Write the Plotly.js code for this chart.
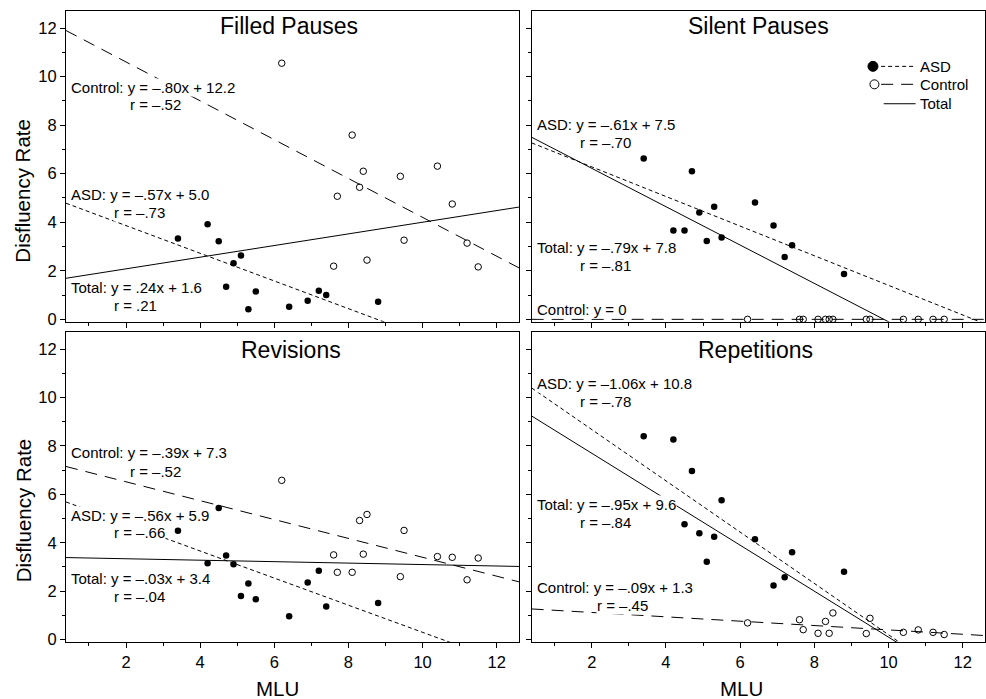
<!DOCTYPE html>
<html>
<head>
<meta charset="utf-8">
<script src="https://cdn.plot.ly/plotly-3.0.1.min.js"></script>
<style>html,body{margin:0;padding:0;background:#fff;}#chart{width:986px;height:699px;}</style>
</head>
<body>
<div id="chart"></div>
<script>
// ---- data ----
const asdMLU = [3.4, 4.2, 4.5, 4.7, 4.9, 5.1, 5.3, 5.5, 6.4, 6.9, 7.2, 7.4, 8.8];
const ctlMLU = [6.2, 7.6, 7.7, 8.1, 8.3, 8.4, 8.5, 9.4, 9.5, 10.4, 10.8, 11.2, 11.5];

const filledASD = [3.33, 3.92, 3.22, 1.34, 2.31, 2.63, 0.42, 1.15, 0.52, 0.77, 1.18, 1.00, 0.72];
const filledCtl = [10.55, 2.19, 5.07, 7.59, 5.44, 6.10, 2.44, 5.89, 3.26, 6.31, 4.75, 3.14, 2.16];
const silentASD = [6.62, 3.66, 3.66, 6.10, 4.40, 3.23, 4.64, 3.37, 4.81, 3.86, 2.57, 3.05, 1.87];
const silentCtl = [0, 0, 0, 0, 0, 0, 0, 0, 0, 0, 0, 0, 0];
const revASD = [4.50, 3.15, 5.44, 3.47, 3.11, 1.80, 2.32, 1.67, 0.96, 2.36, 2.84, 1.37, 1.51];
const revCtl = [6.58, 3.50, 2.78, 2.78, 4.92, 3.53, 5.17, 2.60, 4.51, 3.43, 3.40, 2.47, 3.37];
const repASD = [8.40, 8.27, 4.77, 6.97, 4.39, 3.22, 4.25, 5.76, 4.15, 2.23, 2.58, 3.61, 2.80];
const repCtl = [0.69, 0.82, 0.41, 0.26, 0.75, 0.26, 1.10, 0.25, 0.88, 0.30, 0.40, 0.30, 0.21];

// regression lines: [slope, intercept]
const filledFits = {asd: [-0.57, 5.0], ctl: [-0.80, 12.2], tot: [0.24, 1.6]};
const silentFits = {asd: [-0.61, 7.5], ctl: [0, 0], tot: [-0.79, 7.8]};
const revFits    = {asd: [-0.56, 5.9], ctl: [-0.39, 7.3], tot: [-0.03, 3.4]};
const repFits    = {asd: [-1.06, 10.8], ctl: [-0.09, 1.3], tot: [-0.95, 9.6]};

const panelTitles = ["Filled Pauses", "Silent Pauses", "Revisions", "Repetitions"];
const filledLabels = ["Control: y = –.80x + 12.2", "r = –.52", "ASD: y = –.57x + 5.0", "r = –.73", "Total: y = .24x + 1.6", "r = .21"];
const silentLabels = ["ASD: y = –.61x + 7.5", "r = –.70", "Total: y = –.79x + 7.8", "r = –.81", "Control: y = 0"];
const revLabels = ["Control: y = –.39x + 7.3", "r = –.52", "ASD: y = –.56x + 5.9", "r = –.66", "Total: y = –.03x + 3.4", "r = –.04"];
const repLabels = ["ASD: y = –1.06x + 10.8", "r = –.78", "Total: y = –.95x + 9.6", "r = –.84", "Control: y = –.09x + 1.3", "r = –.45"];
const legendLabels = ["ASD", "Control", "Total"];

const xTickVals = [2, 4, 6, 8, 10, 12];
const xMinorVals = [1, 3, 5, 7, 9, 11];
const yTickVals = [0, 2, 4, 6, 8, 10, 12];
const yMinorVals = [1, 3, 5, 7, 9, 11];

// ---- build ----
const XR = [0.38, 12.6];
const YR = [-0.1, 12.7];
const FONT = "Liberation Sans, Arial, Helvetica, sans-serif";
const SHORT = "4px,3px";
const LONG = "12px,8px";

const traces = [];
function fitLine(fit, xa, ya, dash) {
  const xs = [XR[0], XR[1]];
  traces.push({x: xs, y: xs.map(v => fit[0] * v + fit[1]), xaxis: xa, yaxis: ya,
    mode: "lines", line: {color: "black", width: 1, dash: dash}, showlegend: false, hoverinfo: "skip"});
}
function pts(xs, ys, xa, ya, open) {
  traces.push({x: xs, y: ys, xaxis: xa, yaxis: ya, mode: "markers", showlegend: false,
    marker: open ? {symbol: "circle-open", size: 6.5, color: "black", line: {width: 1, color: "black"}}
                 : {symbol: "circle", size: 6.5, color: "black"}, cliponaxis: false});
}
const panels = [
  {fits: filledFits, a: filledASD, c: filledCtl, xa: "x", ya: "y"},
  {fits: silentFits, a: silentASD, c: silentCtl, xa: "x2", ya: "y2"},
  {fits: revFits, a: revASD, c: revCtl, xa: "x3", ya: "y3"},
  {fits: repFits, a: repASD, c: repCtl, xa: "x4", ya: "y4"}
];
panels.forEach(p => {
  fitLine(p.fits.ctl, p.xa, p.ya, LONG);
  fitLine(p.fits.asd, p.xa, p.ya, SHORT);
  fitLine(p.fits.tot, p.xa, p.ya, "solid");
});
panels.forEach(p => {
  pts(ctlMLU, p.c, p.xa, p.ya, true);
  pts(asdMLU, p.a, p.xa, p.ya, false);
});

function xax(domain, labels) {
  return {domain: domain, range: XR, showline: true, linecolor: "black", linewidth: 1, mirror: true,
    ticks: "outside", ticklen: 5, tickwidth: 1, tickcolor: "black", tickvals: xTickVals,
    showticklabels: labels, tickfont: {size: 16.5, color: "black", family: FONT},
    showgrid: false, zeroline: false, fixedrange: true,
    minor: {tickvals: xMinorVals, ticks: "outside", ticklen: 3, tickwidth: 1, tickcolor: "black", showgrid: false}};
}
function yax(domain, labels, anchor) {
  return {domain: domain, range: YR, anchor: anchor, showline: true, linecolor: "black", linewidth: 1, mirror: true,
    ticks: "outside", ticklen: 5, tickwidth: 1, tickcolor: "black", tickvals: yTickVals,
    showticklabels: labels, tickfont: {size: 16.5, color: "black", family: FONT},
    showgrid: false, zeroline: false, fixedrange: true,
    minor: {tickvals: yMinorVals, ticks: "outside", ticklen: 3, tickwidth: 1, tickcolor: "black", showgrid: false}};
}

const LX = [0, 0.4929], RX = [0.5067, 1];
const TY = [0.5075, 1], BY = [0, 0.4909];

const ann = [];
function txt(text, x, y, xa, ya, size, anchor) {
  ann.push({text: text, x: x, y: y, xref: xa, yref: ya, xanchor: anchor || "left", yanchor: "middle",
    showarrow: false, font: {size: size || 15, color: "black", family: FONT},
    bgcolor: "white", borderpad: 0});
}
// panel titles
txt(panelTitles[0], 6.4, 12.08, "x", "y", 23, "center");
txt(panelTitles[1], 6.5, 12.08, "x2", "y2", 23, "center");
txt(panelTitles[2], 6.45, 11.95, "x3", "y3", 23, "center");
txt(panelTitles[3], 6.42, 11.95, "x4", "y4", 23, "center");
// filled pauses
txt(filledLabels[0], 0.5, 9.54, "x", "y"); txt(filledLabels[1], 2.09, 8.84, "x", "y");
txt(filledLabels[2], 0.5, 5.16, "x", "y"); txt(filledLabels[3], 1.66, 4.41, "x", "y");
txt(filledLabels[4], 0.5, 1.32, "x", "y"); txt(filledLabels[5], 1.66, 0.59, "x", "y");
// silent pauses
txt(silentLabels[0], 0.5, 8.03, "x2", "y2"); txt(silentLabels[1], 1.66, 7.30, "x2", "y2");
txt(silentLabels[2], 0.5, 2.96, "x2", "y2"); txt(silentLabels[3], 1.66, 2.20, "x2", "y2");
txt(silentLabels[4], 0.5, 0.41, "x2", "y2");
// revisions
txt(revLabels[0], 0.5, 7.72, "x3", "y3"); txt(revLabels[1], 2.09, 6.96, "x3", "y3");
txt(revLabels[2], 0.5, 5.14, "x3", "y3"); txt(revLabels[3], 1.66, 4.43, "x3", "y3");
txt(revLabels[4], 0.5, 2.51, "x3", "y3"); txt(revLabels[5], 1.66, 1.77, "x3", "y3");
// repetitions
txt(repLabels[0], 0.5, 10.58, "x4", "y4"); txt(repLabels[1], 1.66, 9.83, "x4", "y4");
txt(repLabels[2], 0.5, 5.59, "x4", "y4"); txt(repLabels[3], 1.66, 4.84, "x4", "y4");
txt(repLabels[4], 0.5, 2.15, "x4", "y4"); txt(repLabels[5], 2.11, 1.41, "x4", "y4");
// legend text
ann.push({text: legendLabels[0], x: 10.8, y: 10.42, xref: "x2", yref: "y2", xanchor: "left", yanchor: "middle", showarrow: false, font: {size: 15, color: "black", family: FONT}});
ann.push({text: legendLabels[1], x: 10.8, y: 9.68, xref: "x2", yref: "y2", xanchor: "left", yanchor: "middle", showarrow: false, font: {size: 15, color: "black", family: FONT}});
ann.push({text: legendLabels[2], x: 10.8, y: 8.88, xref: "x2", yref: "y2", xanchor: "left", yanchor: "middle", showarrow: false, font: {size: 15, color: "black", family: FONT}});
// axis titles
const yTitle = "Disfluency Rate", xTitle = "MLU";
ann.push({text: yTitle, textangle: -90, x: -0.0468, y: 0.7153, xref: "paper", yref: "paper", xanchor: "center", yanchor: "middle", showarrow: false, font: {size: 20.5, color: "black", family: FONT}});
ann.push({text: yTitle, textangle: -90, x: -0.0468, y: 0.2087, xref: "paper", yref: "paper", xanchor: "center", yanchor: "middle", showarrow: false, font: {size: 20.5, color: "black", family: FONT}});
ann.push({text: xTitle, x: 0.2304, y: -0.0732, xref: "paper", yref: "paper", xanchor: "center", yanchor: "middle", showarrow: false, font: {size: 20.5, color: "black", family: FONT}});
ann.push({text: xTitle, x: 0.7353, y: -0.0732, xref: "paper", yref: "paper", xanchor: "center", yanchor: "middle", showarrow: false, font: {size: 20.5, color: "black", family: FONT}});

// legend glyphs
const shapes = [
  {type: "circle", xref: "x2", yref: "y2", xsizemode: "pixel", ysizemode: "pixel", xanchor: 9.58, yanchor: 10.42, x0: -5, x1: 5, y0: -5, y1: 5, fillcolor: "black", line: {color: "black", width: 1}},
  {type: "line", xref: "x2", yref: "y2", x0: 9.80, x1: 10.68, y0: 10.42, y1: 10.42, line: {color: "black", width: 1, dash: SHORT}},
  {type: "circle", xref: "x2", yref: "y2", xsizemode: "pixel", ysizemode: "pixel", xanchor: 9.62, yanchor: 9.68, x0: -4.5, x1: 4.5, y0: -4.5, y1: 4.5, fillcolor: "white", line: {color: "black", width: 1}},
  {type: "line", xref: "x2", yref: "y2", x0: 9.80, x1: 10.72, y0: 9.68, y1: 9.68, line: {color: "black", width: 1, dash: LONG}},
  {type: "line", xref: "x2", yref: "y2", x0: 9.87, x1: 10.73, y0: 8.88, y1: 8.88, line: {color: "black", width: 1}}
];

const layout = {
  width: 986, height: 699,
  margin: {l: 66, r: 1, t: 11, b: 56.5},
  paper_bgcolor: "white", plot_bgcolor: "white",
  font: {family: FONT, color: "black"},
  showlegend: false,
  xaxis: Object.assign(xax(LX, false), {anchor: "y"}),
  yaxis: yax(TY, true, "x"),
  xaxis2: Object.assign(xax(RX, false), {anchor: "y2"}),
  yaxis2: yax(TY, false, "x2"),
  xaxis3: Object.assign(xax(LX, true), {anchor: "y3"}),
  yaxis3: yax(BY, true, "x3"),
  xaxis4: Object.assign(xax(RX, true), {anchor: "y4"}),
  yaxis4: yax(BY, false, "x4"),
  annotations: ann,
  shapes: shapes
};

Plotly.newPlot("chart", traces, layout, {displayModeBar: false, staticPlot: true});
</script>
</body>
</html>
